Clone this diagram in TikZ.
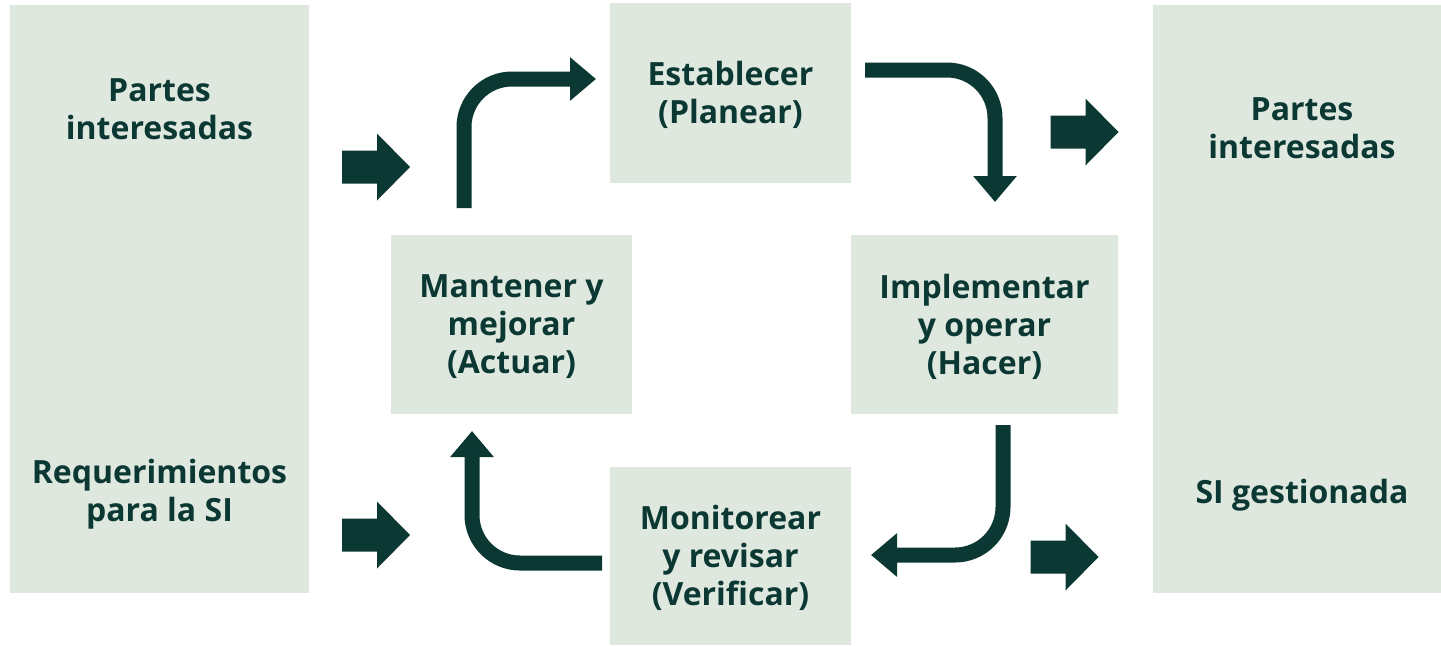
\documentclass[tikz,border=0pt]{standalone}
\usepackage{fontspec}
\setmainfont{Open Sans}
\usetikzlibrary{arrows.meta}
\definecolor{dk}{HTML}{0B3833}
\definecolor{bx}{HTML}{DFE8DF}
\begin{document}
\begin{tikzpicture}[x=0.5pt,y=-0.5pt,
  panel/.style={fill=bx,draw=none,inner sep=0pt,rectangle},
  lbl/.style={text=dk,font=\fontsize{16pt}{19pt}\selectfont\bfseries,align=center,inner sep=0pt},
  blbl/.style={lbl,yshift=-1pt},
  barrow/.style={fill=dk,draw=none},
  cyc/.style={draw=dk,line width=7.5pt,rounded corners=24pt,-{Triangle[width=21pt,length=13pt]}}]
\clip (0,0) rectangle (1441,645);
\useasboundingbox (0,0) rectangle (1441,645);
% panels
\node[panel,minimum width=149.5pt,minimum height=294pt] (lp) at (159.5,299) {};
\node[panel,minimum width=149pt,minimum height=294pt] (rp) at (1302,299) {};
\node[panel,minimum width=120.5pt,minimum height=90pt] (est) at (730.5,93) {};
\node[panel,minimum width=120.5pt,minimum height=89.5pt] (mant) at (511.5,324.5) {};
\node[panel,minimum width=133.5pt,minimum height=89.5pt] (impl) at (984.5,324.5) {};
\node[panel,minimum width=120.5pt,minimum height=89pt] (mon) at (730.5,556) {};
% labels
\node[lbl] (t1) at (159.5,109) {Partes\\interesadas};
\node[lbl] (t2) at (159.5,494) {Requerimientos\\para la SI};
\node[lbl] (t3) at (1302,128) {Partes\\interesadas};
\node[lbl] (t4) at (1302,495) {SI gestionada};
\node[blbl] (t5) at (est) {Establecer\\(Planear)};
\node[blbl] (t6) at (mant) {Mantener y\\mejorar\\(Actuar)};
\node[blbl] (t7) at (impl) {Implementar\\y operar\\(Hacer)};
\node[blbl] (t8) at (mon) {Monitorear\\y revisar\\(Verificar)};
% block arrows
\coordinate (b1) at (376,167);
\coordinate (b2) at (376,535);
\coordinate (b3) at (1084.5,132);
\coordinate (b4) at (1064.5,557);
\foreach \b in {b1,b2,b3,b4}
  \fill[barrow] (\b) ++(-34,-16.5) -- ++(35,0) -- ++(0,-17) -- ++(33,33.5) -- ++(-33,33.5) -- ++(0,-17) -- ++(-35,0) -- cycle;
% cycle arrows
\coordinate (c1s) at (464,208);
\coordinate (c1e) at (596,79);
\coordinate (c2s) at (865,70);
\coordinate (c2e) at (995,202);
\coordinate (c3s) at (1003,425);
\coordinate (c3e) at (871,555);
\coordinate (c4s) at (602,563);
\coordinate (c4e) at (472,431);
\draw[cyc] (c1s) |- (c1e);
\draw[cyc] (c2s) -| (c2e);
\draw[cyc] (c3s) |- (c3e);
\draw[cyc] (c4s) -| (c4e);
\end{tikzpicture}
\end{document}
